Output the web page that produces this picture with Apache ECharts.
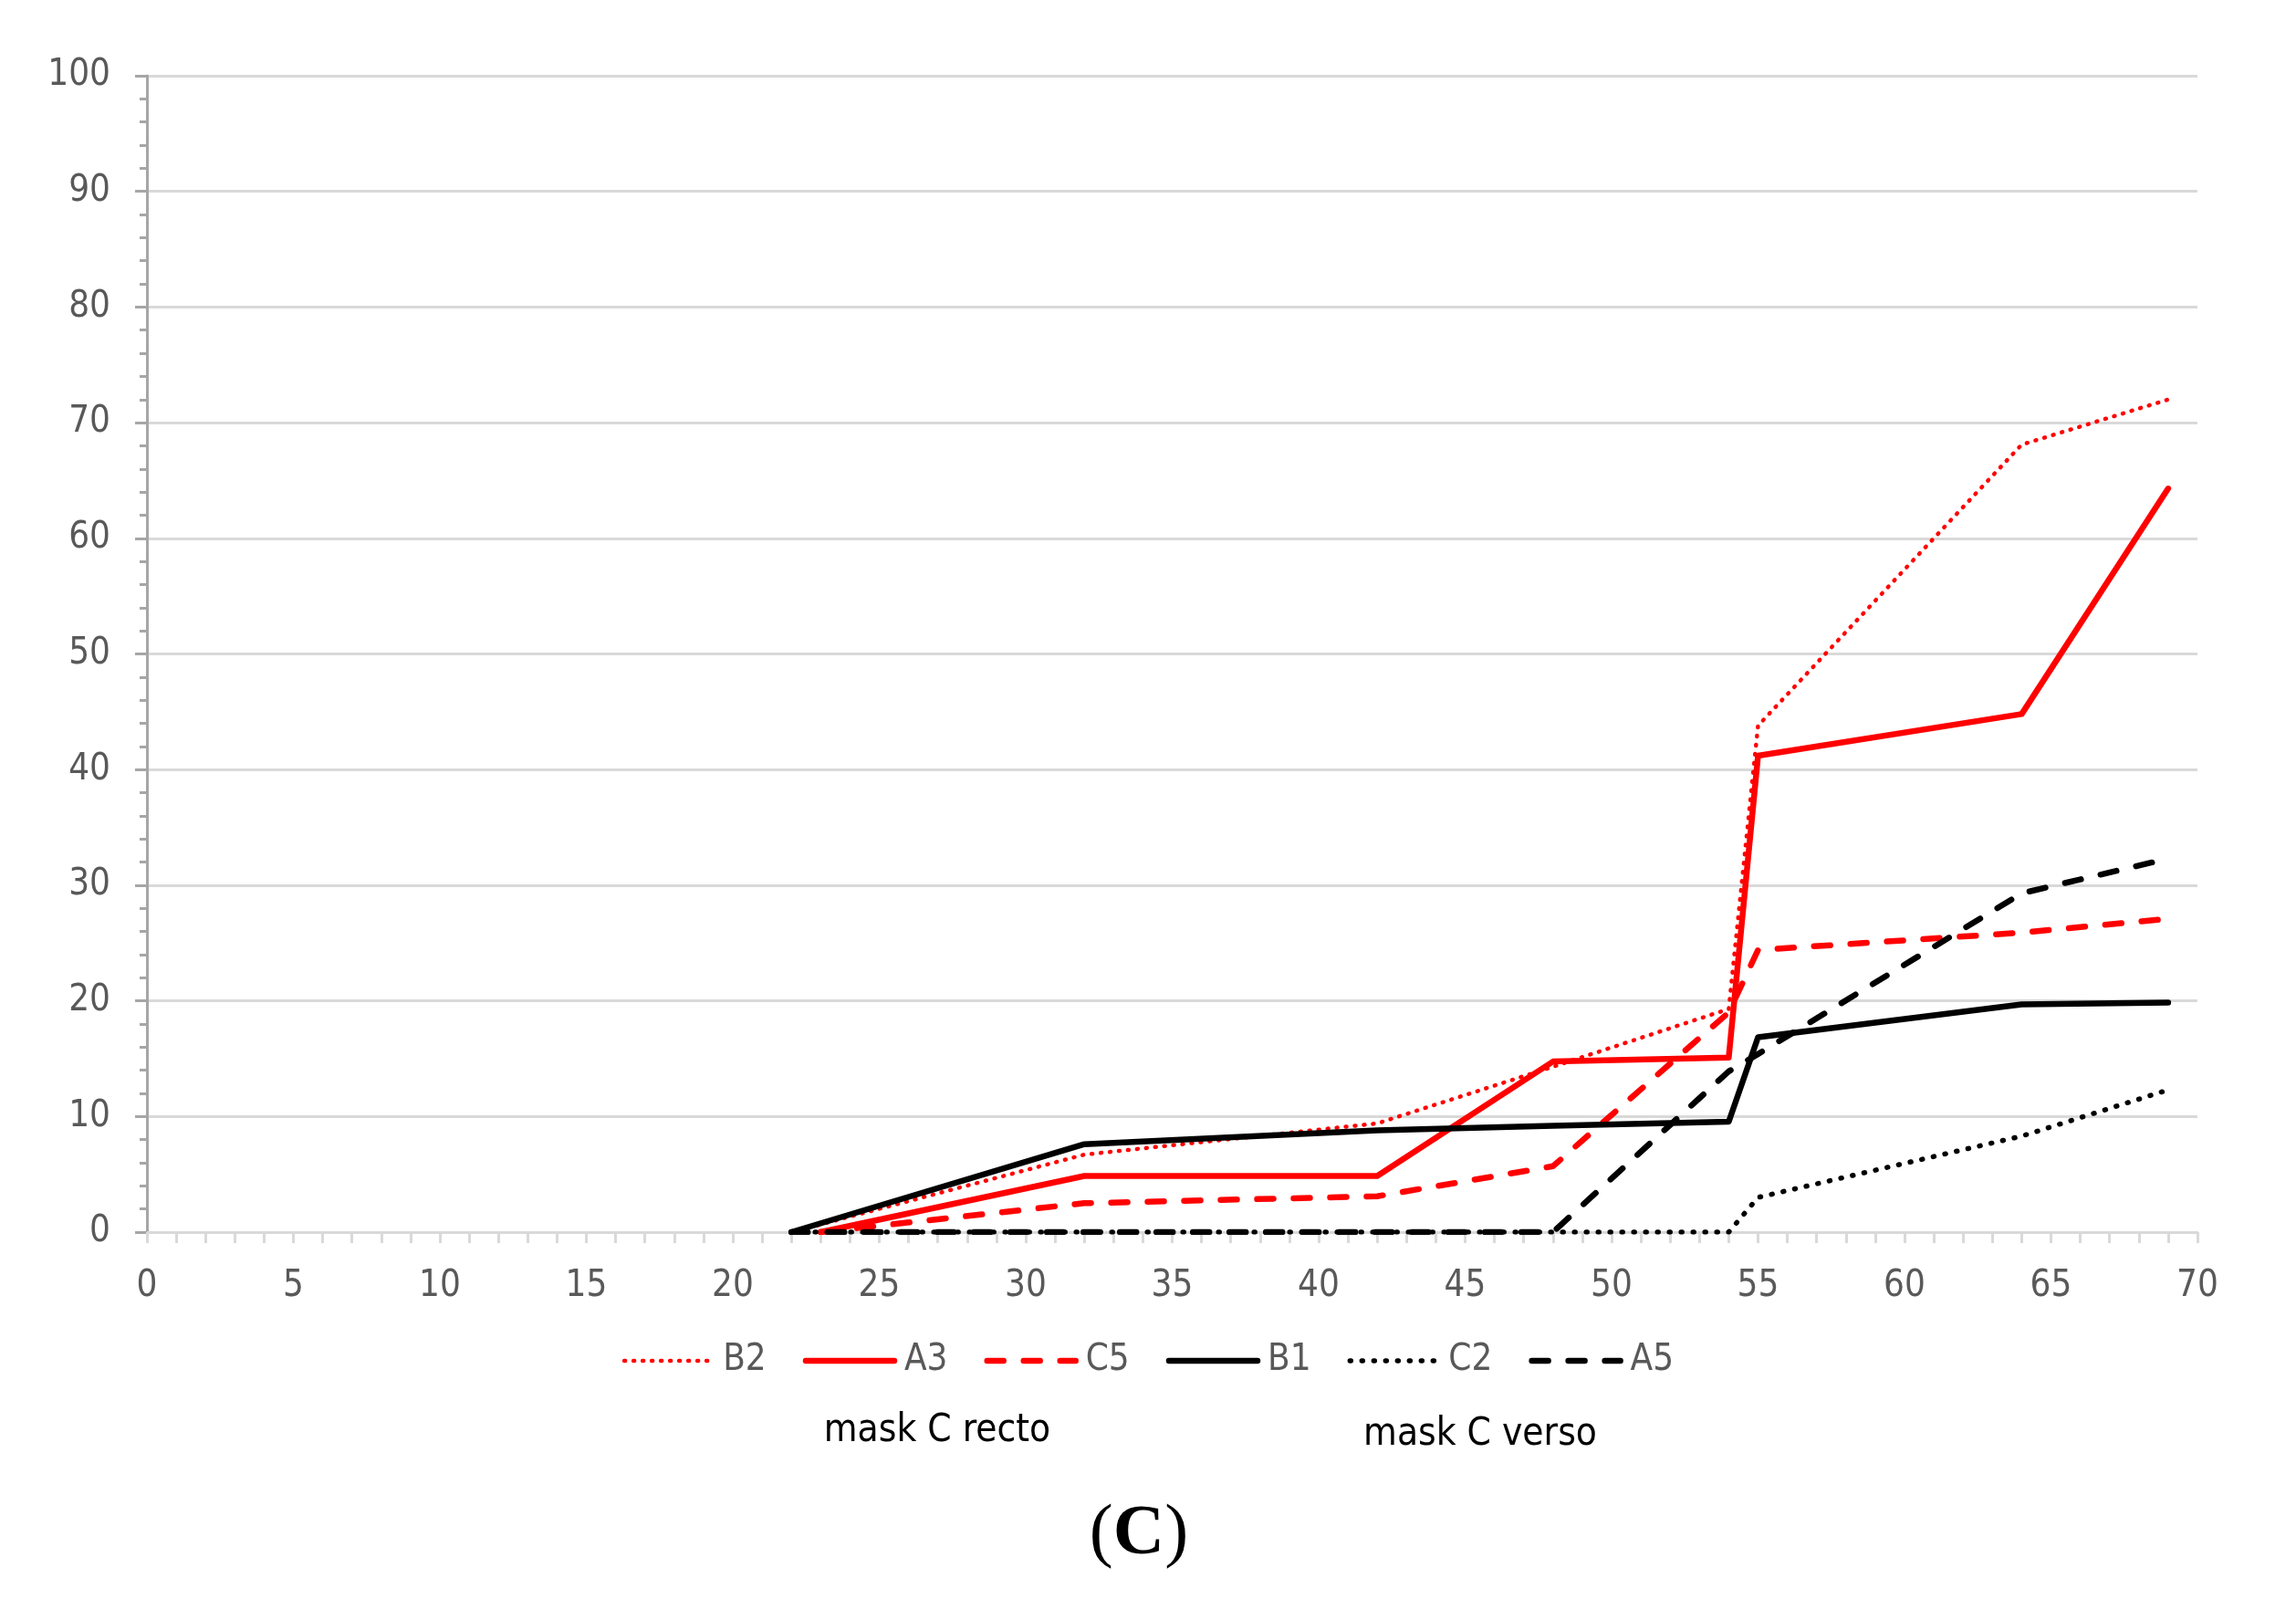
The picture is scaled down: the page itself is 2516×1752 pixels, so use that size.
<!DOCTYPE html>
<html>
<head>
<meta charset="utf-8">
<script src="https://cdn.jsdelivr.net/npm/echarts@6/dist/echarts.min.js"></script>
<style>
html,body{margin:0;padding:0;background:#fff;}
#chart{width:2516px;height:1752px;}
</style>
</head>
<body>
<div id="chart"></div>
<script>
// ---- data (x = position, y = value) ----
var seriesNames = ['B2', 'A3', 'C5', 'B1', 'C2', 'A5'];
var B2 = [[22,0],[32,6.7],[42,9.4],[48,14.3],[54,19.3],[55,43.8],[64,68.1],[69,72.0]];
var A3 = [[23,0],[32,4.85],[42,4.85],[48,14.75],[54,15.1],[55,41.2],[64,44.8],[69,64.3]];
var C5 = [[23,0],[32,2.5],[42,3.1],[48,5.7],[54,19.0],[55,24.4],[64,25.9],[69,27.1]];
var B1 = [[22,0],[32,7.6],[42,8.8],[48,9.2],[54,9.55],[55,16.85],[64,19.7],[69,19.85]];
var C2 = [[22,0],[32,0],[42,0],[48,0],[54,0],[55,3.0],[64,8.3],[69,12.3]];
var A5 = [[22,0],[32,0],[42,0],[48,0],[54,13.9],[55,15.4],[64,29.3],[69,32.3]];
var xTicks = {min: 0, max: 70, interval: 5};
var yTicks = {min: 0, max: 100, interval: 10};
var groupLabels = ['mask C recto', 'mask C verso'];
var panelLabel = 'C';

var FONT = "'Liberation Sans Narrow', 'DejaVu Sans Condensed', 'Liberation Sans', sans-serif";
var SERIF = "'Liberation Serif', 'DejaVu Serif', serif";
var RED = '#FF0000', BLACK = '#000000';

var styles = {
  B2: {color: RED, width: 4.5, type: [1, 9]},
  A3: {color: RED, width: 6.5, type: 'solid'},
  C5: {color: RED, width: 6.5, type: [18, 22]},
  B1: {color: BLACK, width: 6.5, type: 'solid'},
  C2: {color: BLACK, width: 5.5, type: [1, 12]},
  A5: {color: BLACK, width: 6.5, type: [18, 22]}
};
var dataMap = {B2: B2, A3: A3, C5: C5, B1: B1, C2: C2, A5: A5};

function mk(name) {
  var s = styles[name];
  return {
    name: name, type: 'line', data: dataMap[name], symbol: 'none', showSymbol: false, smooth: false,
    lineStyle: {color: s.color, width: s.width, type: s.type, cap: 'round', join: 'round'},
    itemStyle: {color: s.color},
    z: 3
  };
}

var chart = echarts.init(document.getElementById('chart'));
chart.setOption({
  animation: false,
  backgroundColor: '#ffffff',
  grid: {left: 161, right: 108, top: 83, bottom: 402, containLabel: false},
  xAxis: {
    type: 'value', min: xTicks.min, max: xTicks.max, interval: xTicks.interval,
    axisLine: {show: true, lineStyle: {color: '#D9D9D9', width: 3}},
    axisTick: {show: true, length: 12, lineStyle: {color: '#D9D9D9', width: 3}},
    minorTick: {show: true, splitNumber: 5, length: 12, lineStyle: {color: '#D9D9D9', width: 3}},
    splitLine: {show: false},
    axisLabel: {color: '#595959', fontSize: 40, fontFamily: FONT, margin: 40}
  },
  yAxis: {
    type: 'value', min: yTicks.min, max: yTicks.max, interval: yTicks.interval,
    axisLine: {show: true, lineStyle: {color: '#A6A6A6', width: 3}},
    axisTick: {show: true, length: 13, lineStyle: {color: '#A6A6A6', width: 3}},
    minorTick: {show: true, splitNumber: 5, length: 8, lineStyle: {color: '#A6A6A6', width: 3}},
    splitLine: {show: true, lineStyle: {color: '#D9D9D9', width: 3}},
    axisLabel: {color: '#595959', fontSize: 40, fontFamily: FONT, margin: 40}
  },
  legend: {
    data: seriesNames.map(function (n) {
      var s = styles[n];
      return {name: n, lineStyle: {color: s.color, width: s.width, type: s.type, cap: 'round'}};
    }),
    left: 'center', top: 1466,
    itemWidth: 97, itemHeight: 14, itemGap: 40,
    itemStyle: {color: 'rgba(0,0,0,0)', borderWidth: 0, opacity: 0},
    textStyle: {color: '#595959', fontSize: 40, fontFamily: FONT, padding: [0,0,0,6]}
  },
  graphic: [
    {type: 'text', x: 1027, y: 1568, style: {text: groupLabels[0], fill: '#000', font: '42px ' + FONT, align: 'center', verticalAlign: 'middle'}},
    {type: 'text', x: 1622, y: 1572, style: {text: groupLabels[1], fill: '#000', font: '42px ' + FONT, align: 'center', verticalAlign: 'middle'}},
    {type: 'text', x: 1248, y: 1682, style: {
      text: '(' + '{b|' + panelLabel + '}' + ')',
      rich: {b: {fontWeight: 'bold', fontSize: 78, fontFamily: SERIF, fill: '#000'}},
      fill: '#000', fontSize: 78, fontFamily: SERIF,
      align: 'center', verticalAlign: 'middle'
    }}
  ],
  series: seriesNames.map(mk)
});
</script>
</body>
</html>
